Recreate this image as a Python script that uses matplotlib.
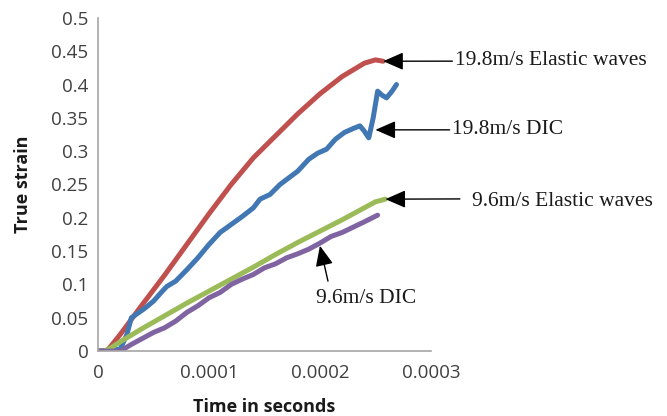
import matplotlib
matplotlib.use("Agg")
import matplotlib.pyplot as plt

# 19.8 m/s impact, strain from elastic-wave analysis
t_ew198 = [0, 0.000008, 0.00002, 0.00004, 0.00006, 0.00008, 0.0001, 0.00012,
           0.00014, 0.00016, 0.00018, 0.0002, 0.00022, 0.00024, 0.00025, 0.000257]
s_ew198 = [0, 0, 0.025, 0.07, 0.114, 0.16, 0.206, 0.25,
           0.29, 0.323, 0.356, 0.386, 0.412, 0.432, 0.437, 0.435]

# 19.8 m/s impact, strain from DIC
t_dic198 = [0, 0.00002, 0.000026, 0.00003, 0.000036, 0.000042, 0.00005, 0.000058,
            0.000062, 0.00007, 0.00008, 0.00009, 0.0001, 0.00011, 0.00012, 0.00013,
            0.00014, 0.000146, 0.000155, 0.000164, 0.000172, 0.00018, 0.00019,
            0.000198, 0.000206, 0.000214, 0.000222, 0.00023, 0.000236, 0.00024,
            0.000244, 0.000248, 0.000252, 0.000256, 0.00026, 0.000265, 0.000269]
s_dic198 = [0, 0.003, 0.025, 0.05, 0.057, 0.064, 0.075, 0.09,
            0.097, 0.105, 0.122, 0.14, 0.16, 0.178, 0.19, 0.202,
            0.215, 0.228, 0.235, 0.25, 0.26, 0.27, 0.288,
            0.297, 0.303, 0.318, 0.328, 0.334, 0.338, 0.33,
            0.32, 0.35, 0.39, 0.384, 0.38, 0.39, 0.40]

# 9.6 m/s impact, strain from elastic-wave analysis
t_ew96 = [0, 0.000005, 0.00001, 0.00002, 0.00004, 0.00006, 0.00008, 0.0001, 0.00012,
          0.00014, 0.00016, 0.00018, 0.0002, 0.00022, 0.00024, 0.00025, 0.000259]
s_ew96 = [0, 0, 0.003, 0.014, 0.034, 0.053, 0.072, 0.09, 0.108,
          0.126, 0.145, 0.163, 0.18, 0.197, 0.215, 0.224, 0.228]

# 9.6 m/s impact, strain from DIC
t_dic96 = [0, 0.00002, 0.000026, 0.00003, 0.00004, 0.00005, 0.00006, 0.00007, 0.00008,
           0.00009, 0.0001, 0.00011, 0.00012, 0.00013, 0.00014, 0.00015, 0.00016,
           0.00017, 0.00018, 0.00019, 0.0002, 0.00021, 0.00022, 0.00023, 0.00024, 0.000252]
s_dic96 = [0, 0, 0.006, 0.01, 0.019, 0.028, 0.035, 0.045, 0.058,
           0.068, 0.08, 0.088, 0.1, 0.108, 0.115, 0.125, 0.131,
           0.14, 0.146, 0.153, 0.162, 0.172, 0.178, 0.186, 0.194, 0.204]

x_ticks = [0, 0.0001, 0.0002, 0.0003]
x_tick_labels = ["0", "0.0001", "0.0002", "0.0003"]
y_ticks = [0, 0.05, 0.1, 0.15, 0.2, 0.25, 0.3, 0.35, 0.4, 0.45, 0.5]
y_tick_labels = ["0", "0.05", "0.1", "0.15", "0.2", "0.25", "0.3", "0.35", "0.4", "0.45", "0.5"]

label_ew198 = "19.8m/s Elastic waves"
label_dic198 = "19.8m/s DIC"
label_ew96 = "9.6m/s Elastic waves"
label_dic96 = "9.6m/s DIC"

fig = plt.figure(figsize=(6.67, 4.16), dpi=100)
ax = fig.add_axes([0.147, 0.156, 0.499, 0.801])

lw = 3.6
ax.plot(t_ew198, s_ew198, color="#C0504D", lw=lw, solid_capstyle="round", solid_joinstyle="round")
ax.plot(t_dic198, s_dic198, color="#4178B4", lw=lw, solid_capstyle="round", solid_joinstyle="round")
ax.plot(t_ew96, s_ew96, color="#9BBB59", lw=lw, solid_capstyle="round", solid_joinstyle="round")
ax.plot(t_dic96, s_dic96, color="#8064A2", lw=lw, solid_capstyle="round", solid_joinstyle="round")

ax.set_xlim(0, 0.0003)
ax.set_ylim(0, 0.5)
ax.set_xticks(x_ticks)
ax.set_xticklabels(x_tick_labels)
ax.set_yticks(y_ticks)
ax.set_yticklabels(y_tick_labels)

for lab in ax.get_xticklabels() + ax.get_yticklabels():
    lab.set_fontfamily("Open Sans")
    lab.set_fontsize(13.5)
    lab.set_color("#404040")
ax.tick_params(axis="both", length=0)
ax.tick_params(axis="x", pad=9)
ax.tick_params(axis="y", pad=7)

for side in ("top", "right"):
    ax.spines[side].set_visible(False)
for side in ("left", "bottom"):
    ax.spines[side].set_color("#A6A6A6")
    ax.spines[side].set_linewidth(1.2)

ax.set_xlabel("Time in seconds", fontfamily="Open Sans", fontweight="bold",
              fontsize=13, labelpad=12, color="#1a1a1a")
ax.set_ylabel("True strain", fontfamily="Open Sans", fontweight="bold",
              fontsize=13, labelpad=14, color="#1a1a1a")

ann_font = dict(fontfamily="Liberation Serif", fontsize=15.5, color="#1a1a1a")
arrow = dict(arrowstyle="-|>,head_length=0.8,head_width=0.35", color="black",
             lw=1.0, shrinkA=0, shrinkB=0)

# elastic wave 19.8 m/s: arrow to the end of the curve
ax.annotate(label_ew198, xy=(t_ew198[-1], s_ew198[-1]), xytext=(72, 1),
            textcoords="offset pixels", ha="left", va="center",
            arrowprops=dict(arrow, relpos=(0, 0.45)), annotation_clip=False, **ann_font)

# DIC 19.8 m/s: arrow to the dip before the final rise
i_dip = s_dic198.index(0.32)
ax.annotate(label_dic198, xy=(t_dic198[i_dip] + 0.000006, s_dic198[i_dip] + 0.012),
            xytext=(77, 0), textcoords="offset pixels", ha="left", va="center",
            arrowprops=dict(arrow, relpos=(0, 0.5)), annotation_clip=False, **ann_font)

# elastic wave 9.6 m/s
ax.annotate(label_ew96, xy=(t_ew96[-1], s_ew96[-1]), xytext=(87, -2),
            textcoords="offset pixels", ha="left", va="center",
            arrowprops=dict(arrow, relpos=(0, 0.62), shrinkA=7),
            annotation_clip=False, **ann_font)

# DIC 9.6 m/s: arrow pointing up onto the curve
i_ptr = t_dic96.index(0.0002)
ax.annotate(label_dic96, xy=(t_dic96[i_ptr], s_dic96[i_ptr] - 0.004), xytext=(46, -53),
            textcoords="offset pixels", ha="center", va="center",
            arrowprops=dict(arrow, relpos=(0.14, 1.0), shrinkA=4),
            annotation_clip=False, **ann_font)

fig.savefig("out.png", dpi=100)
